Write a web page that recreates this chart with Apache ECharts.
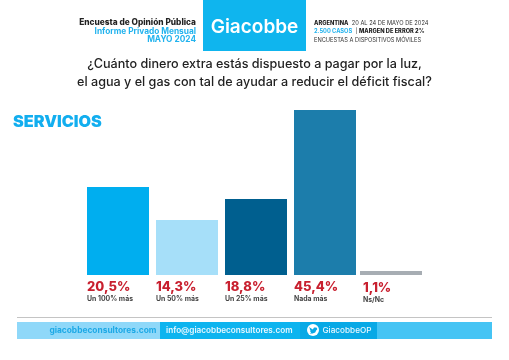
<!DOCTYPE html>
<html><head><meta charset="utf-8">
<style>html,body{margin:0;padding:0;background:#fff}#c{width:509px;height:360px}</style>
<script src="https://cdn.jsdelivr.net/npm/echarts@6/dist/echarts.min.js"></script>
</head><body><div id="c"></div>
<script>
const categories = ['Un 100% más','Un 50% más','Un 25% más','Nada más','Ns/Nc'];
const printedLabels = ['20,5%','14,3%','18,8%','45,4%','1,1%'];
// Bar heights as drawn in the picture (the source's bars are not strictly proportional to its printed labels).
const drawnHeights = [24.2,15.1,20.9,45.4,1.1];
const barColors = ['#00aeef','#a6dff9','#005f8f','#1c7dab','#a7adb3'];
const titleLines = ['¿Cuánto dinero extra estás dispuesto a pagar por la luz,','el agua y el gas con tal de ayudar a reducir el déficit fiscal?'];
const F='Inter, "Noto Sans", sans-serif';
const chart = echarts.init(document.getElementById('c'),null,{renderer:'canvas'});
function T(x,y,text,size,weight,fill,align,family){return {type:'text',x,y,silent:true,style:{text,fontSize:size,fontWeight:weight,fill,align:align||'left',verticalAlign:'middle',fontFamily:family||F}};}
function R(x,y,w,h,fill){return {type:'rect',silent:true,shape:{x,y,width:w,height:h},style:{fill}};}
const rich={v:{fontSize:13,fontWeight:800,color:'#c8202f',fontFamily:F,lineHeight:13},c:{fontSize:6.9,fontWeight:700,color:'#444',fontFamily:F,lineHeight:10}};
const lab={show:true,position:['0%','100%'],offset:[0,5.5],align:'left',verticalAlign:'top',
  formatter:p=>'{v|'+printedLabels[p.data.idx]+'}\n{c|'+categories[p.data.idx]+'}',rich};
const labLast=Object.assign({},lab,{offset:[3,7]});
const mk=i=>({value:drawnHeights[i],idx:i,itemStyle:{color:barColors[i]}});
const axisX=(idx,cats)=>({type:'category',gridIndex:idx,data:cats,show:false});
const axisY=idx=>({type:'value',gridIndex:idx,min:0,max:45.4,show:false});
chart.setOption({
  animation:false,backgroundColor:'#fff',
  grid:[{left:83.5,width:276,top:110,height:165},{left:358,width:66,top:110,height:165}],
  xAxis:[axisX(0,categories.slice(0,4)),axisX(1,categories.slice(4))],
  yAxis:[axisY(0),axisY(1)],
  series:[
   {type:'bar',xAxisIndex:0,yAxisIndex:0,barWidth:62,data:[0,1,2,3].map(mk),label:lab},
   {type:'bar',xAxisIndex:1,yAxisIndex:1,barWidth:62,data:[mk(4)],label:labLast}
  ],
  graphic:[
   R(203,0,103,51,'#0fb5ee'),
   T(254.5,27,'Giacobbe',19,600,'#fff','center'),
   T(196,23,'Encuesta de Opinión Pública',8.3,800,'#222','right'),
   T(196,31.5,'Informe Privado Mensual',8.3,700,'#22b3ee','right'),
   T(196,40,'MAYO 2024',8.3,700,'#22b3ee','right'),
   {type:'text',x:314,y:23,silent:true,style:{verticalAlign:'middle',text:'{b|ARGENTINA} {n|20 AL 24 DE MAYO DE 2024}',rich:{b:{fontSize:5.7,fontWeight:800,fill:'#222',fontFamily:F},n:{fontSize:5.7,fill:'#333',fontFamily:F}}}},
   {type:'text',x:314,y:31.5,silent:true,style:{verticalAlign:'middle',text:'{a|2.500 CASOS} {n|| }{b|MARGEN DE ERROR 2%}',rich:{a:{fontSize:5.7,fontWeight:700,fill:'#22b3ee',fontFamily:F},b:{fontSize:5.7,fontWeight:800,fill:'#222',fontFamily:F},n:{fontSize:5.7,fill:'#333',fontFamily:F}}}},
   T(314,40,'ENCUESTAS A DISPOSITIVOS MÓVILES',5.7,400,'#333'),
   T(254.5,64.5,titleLines[0],12.6,500,'#222','center'),
   T(254.5,82,titleLines[1],12.6,500,'#222','center'),
   T(13,122,'SERVICIOS',16.2,900,'#12aeef'),
   R(17,317,475,1,'#c4c4c4'),
   R(17,322,143,17,'#8fd8f9'),
   R(160,322,140,17,'#0db4ef'),
   R(300,322,77,17,'#08a9e6'),
   R(377,322,115,17,'#45c4f4'),
   T(156.5,330.5,'giacobbeconsultores.com',8.4,700,'#1ea9e6','right'),
   T(166,330.5,'info@giacobbeconsultores.com',8.2,600,'#e8f8ff'),
   {type:'circle',silent:true,shape:{cx:313,cy:330,r:6},style:{fill:'#fff'}},
   {type:'polygon',silent:true,shape:{points:[[309,327],[312.8,329.4],[314,327.6],[315.8,327.4],[317.3,327.9],[316.8,329],[317.4,329.2],[316.3,330.2],[315.2,332.4],[312.6,333.6],[309.6,333.4],[311.2,332.6],[310,331.4],[310.8,331],[309.6,329.6],[310.2,329.4]]},style:{fill:'#0aa8e6'}},
   T(322.5,330.5,'GiacobbeOP',8.2,500,'#e8f8ff')
  ]
});
</script></body></html>
